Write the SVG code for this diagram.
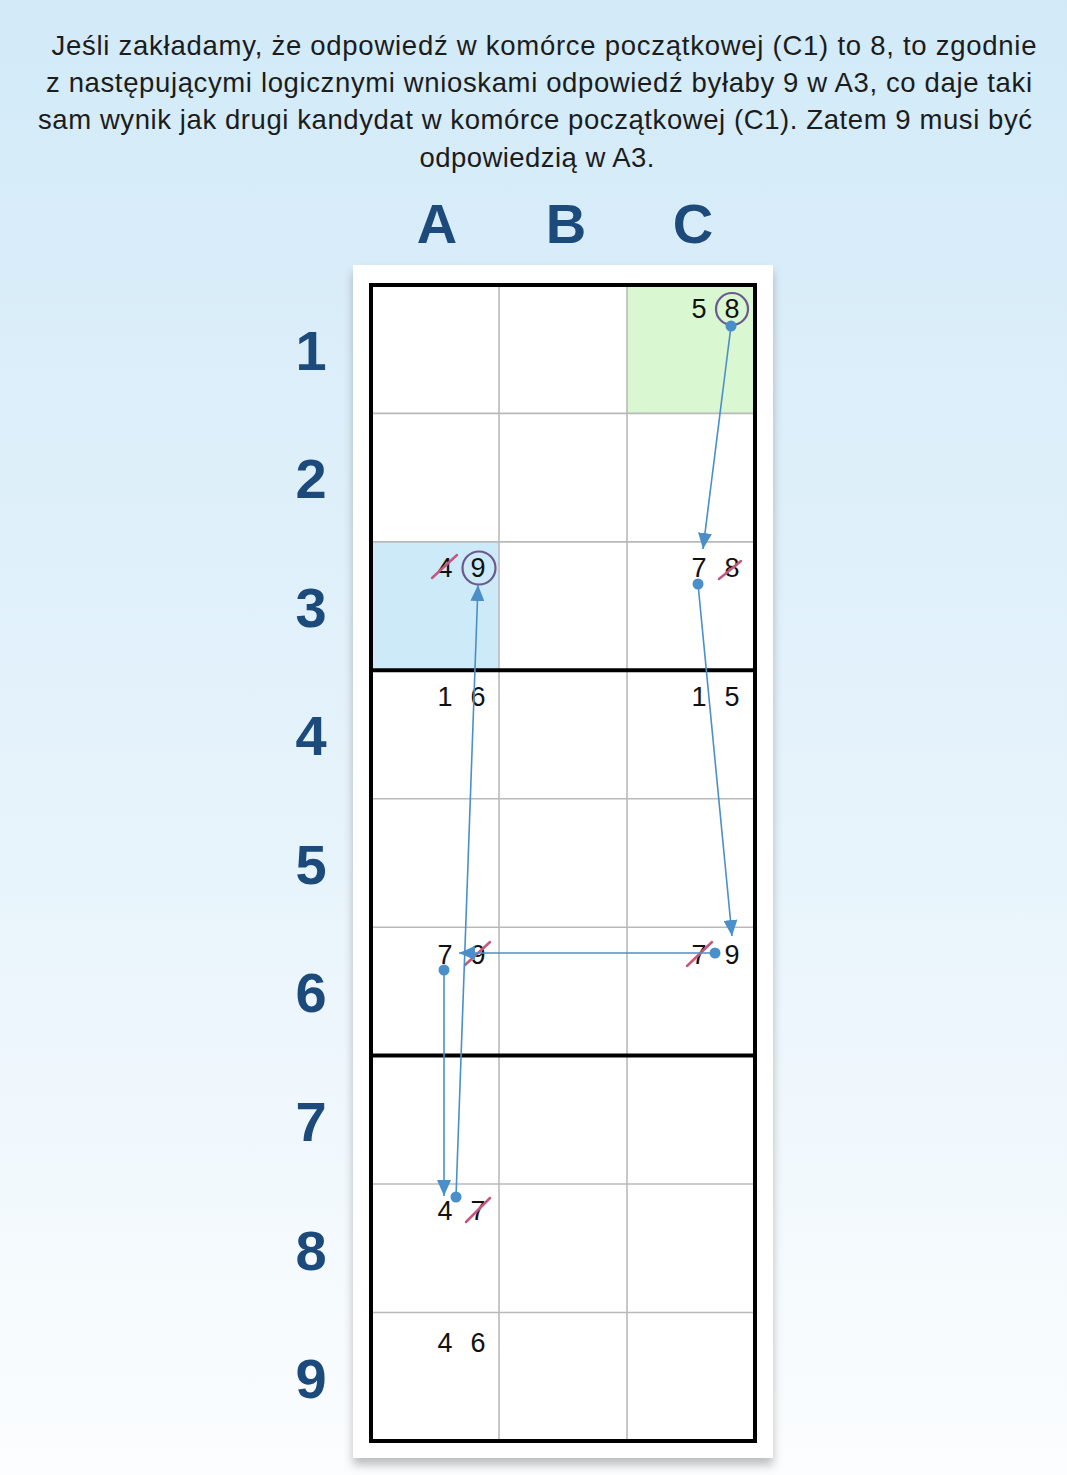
<svg xmlns="http://www.w3.org/2000/svg" width="1067" height="1475" viewBox="0 0 1067 1475">
  <defs>
    <linearGradient id="bg" x1="0" y1="0" x2="0" y2="1">
      <stop offset="0" stop-color="#d2eaf8"/>
      <stop offset="0.55" stop-color="#e6f3fb"/>
      <stop offset="1" stop-color="#fbfdfe"/>
    </linearGradient>
    <filter id="shadow" x="-10%" y="-5%" width="120%" height="110%">
      <feDropShadow dx="0" dy="7" stdDeviation="5" flood-color="#000" flood-opacity="0.25"/>
    </filter>
    <marker id="arr" viewBox="0 0 16 14" refX="16" refY="7" markerWidth="16" markerHeight="14" markerUnits="userSpaceOnUse" orient="auto">
      <path d="M0,0 L16,7 L0,14 Z" fill="#4a8fc9"/>
    </marker>
    <style>
      .intro { font-family: "Liberation Sans", Arial, sans-serif; font-size: 27.5px; fill: #1c1c1c; text-anchor: middle; }
      .head { font-family: "Liberation Sans", Arial, sans-serif; font-weight: bold; font-size: 56px; fill: #1c4a7a; text-anchor: middle; }
      .cand { font-family: "Liberation Sans", Arial, sans-serif; font-size: 27px; fill: #111; text-anchor: middle; }
      .thin { stroke: #b9b9b9; stroke-width: 1.6; }
      .thick { stroke: #000; stroke-width: 4; }
      .strike { stroke: #c4577f; stroke-width: 2.5; stroke-linecap: round; }
      .ring { fill: none; stroke: #6a5a8e; stroke-width: 2.2; }
      .conn { stroke: #4a8fc9; stroke-width: 1.6; fill: none; }
      .dot { fill: #4a8fc9; }
    </style>
  </defs>

  <rect x="0" y="0" width="1067" height="1475" fill="url(#bg)"/>

  <g id="intro-text">
    <text class="intro" x="544" y="55" textLength="985">Jeśli zakładamy, że odpowiedź w komórce początkowej (C1) to 8, to zgodnie</text>
    <text class="intro" x="539" y="92" textLength="986">z następującymi logicznymi wnioskami odpowiedź byłaby 9 w A3, co daje taki</text>
    <text class="intro" x="535" y="129" textLength="994">sam wynik jak drugi kandydat w komórce początkowej (C1). Zatem 9 musi być</text>
    <text class="intro" x="537" y="167" textLength="235">odpowiedzią w A3.</text>
  </g>

  <g id="column-headers">
    <text class="head" x="437" y="243">A</text>
    <text class="head" x="566" y="243">B</text>
    <text class="head" x="693" y="243">C</text>
  </g>

  <g id="row-headers">
    <text class="head" x="311" y="370">1</text>
    <text class="head" x="311" y="498">2</text>
    <text class="head" x="311" y="627">3</text>
    <text class="head" x="311" y="755">4</text>
    <text class="head" x="311" y="884">5</text>
    <text class="head" x="311" y="1012">6</text>
    <text class="head" x="311" y="1141">7</text>
    <text class="head" x="311" y="1270">8</text>
    <text class="head" x="311" y="1398">9</text>
  </g>

  <g id="card">
    <rect x="353" y="265" width="420" height="1193" fill="#ffffff" filter="url(#shadow)"/>
  </g>

  <g id="grid">
    <rect x="627" y="285" width="128" height="128.4" fill="#d9f7d0"/>
    <rect x="371" y="541.9" width="128" height="128.4" fill="#cdeaf8"/>
    <line class="thin" x1="499" y1="285" x2="499" y2="1441"/>
    <line class="thin" x1="627" y1="285" x2="627" y2="1441"/>
    <line class="thin" x1="371" y1="413.4" x2="755" y2="413.4"/>
    <line class="thin" x1="371" y1="541.9" x2="755" y2="541.9"/>
    <line class="thin" x1="371" y1="798.8" x2="755" y2="798.8"/>
    <line class="thin" x1="371" y1="927.2" x2="755" y2="927.2"/>
    <line class="thin" x1="371" y1="1184" x2="755" y2="1184"/>
    <line class="thin" x1="371" y1="1312.5" x2="755" y2="1312.5"/>
    <line class="thick" x1="371" y1="670.3" x2="755" y2="670.3"/>
    <line class="thick" x1="371" y1="1055.6" x2="755" y2="1055.6"/>
    <rect x="371" y="285" width="384" height="1156" fill="none" stroke="#000" stroke-width="4"/>
  </g>

  <g id="cell-C1">
    <text class="cand" x="699" y="318">5</text>
    <text class="cand" x="732" y="318">8</text>
    <circle class="ring" cx="732" cy="309" r="16"/>
  </g>
  <g id="cell-A3">
    <text class="cand" x="445" y="577">4</text>
    <line class="strike" x1="432" y1="578" x2="457" y2="555"/>
    <text class="cand" x="478" y="577">9</text>
    <circle class="ring" cx="479" cy="568" r="16.5"/>
  </g>
  <g id="cell-C3">
    <text class="cand" x="699" y="577">7</text>
    <text class="cand" x="732" y="577">8</text>
    <line class="strike" x1="719" y1="579" x2="741" y2="561"/>
  </g>
  <g id="cell-A4">
    <text class="cand" x="445" y="706">1</text>
    <text class="cand" x="478" y="706">6</text>
  </g>
  <g id="cell-C4">
    <text class="cand" x="699" y="706">1</text>
    <text class="cand" x="732" y="706">5</text>
  </g>
  <g id="cell-A6">
    <text class="cand" x="445" y="964">7</text>
    <text class="cand" x="478" y="964">9</text>
    <line class="strike" x1="465" y1="965" x2="490" y2="942"/>
  </g>
  <g id="cell-C6">
    <text class="cand" x="699" y="964">7</text>
    <line class="strike" x1="687" y1="966" x2="712" y2="942"/>
    <text class="cand" x="732" y="964">9</text>
  </g>
  <g id="cell-A8">
    <text class="cand" x="445" y="1220">4</text>
    <text class="cand" x="478" y="1220">7</text>
    <line class="strike" x1="466" y1="1222" x2="490" y2="1198"/>
  </g>
  <g id="cell-A9">
    <text class="cand" x="445" y="1352">4</text>
    <text class="cand" x="478" y="1352">6</text>
  </g>

  <g id="connectors">
    <line class="conn" x1="731" y1="326" x2="703" y2="549" marker-end="url(#arr)"/>
    <circle class="dot" cx="731" cy="326" r="5.5"/>
    <line class="conn" x1="698" y1="584" x2="732" y2="936" marker-end="url(#arr)"/>
    <circle class="dot" cx="698" cy="584" r="5.5"/>
    <line class="conn" x1="715" y1="953" x2="459" y2="953" marker-end="url(#arr)"/>
    <circle class="dot" cx="715" cy="953" r="5.5"/>
    <line class="conn" x1="444" y1="970" x2="444" y2="1196" marker-end="url(#arr)"/>
    <circle class="dot" cx="444" cy="970" r="5.5"/>
    <line class="conn" x1="456" y1="1197" x2="478" y2="585" marker-end="url(#arr)"/>
    <circle class="dot" cx="456" cy="1197" r="5.5"/>
  </g>
</svg>
